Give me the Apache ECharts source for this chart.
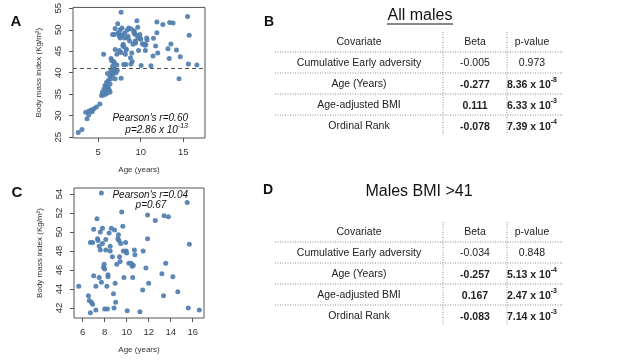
<!DOCTYPE html>
<html>
<head>
<meta charset="utf-8">
<script src="https://cdn.jsdelivr.net/npm/echarts@6.0.0/dist/echarts.min.js"></script>
<style>
  html, body { margin: 0; padding: 0; background: #fff; }
  #main { width: 617px; height: 360px; }
</style>
</head>
<body>
<div id="main"></div>
<script>
// males with BMI > 41 (shown in both A and C)
const ageAbove = [5.64, 6.52, 6.6, 6.7, 6.8, 6.9, 7.0, 7.0, 6.7, 6.9, 7.2, 7.2, 7.3, 7.35, 7.4, 7.5, 7.5, 7.6, 7.6, 7.7,
  7.7, 7.8, 7.8, 7.9, 7.95, 8.0, 8.0, 8.1, 8.1, 8.2, 8.25, 8.3, 8.3, 8.4, 8.5, 8.5, 8.6, 8.7, 8.8, 8.85,
  8.9, 8.95, 9.0, 9.1, 9.2, 9.25, 9.3, 9.35, 9.4, 9.45, 9.55, 9.65, 9.7, 9.75, 9.9, 9.95, 10.0, 10.05, 10.2, 10.4,
  10.5, 10.6, 10.7, 10.75, 10.55, 11.2, 11.45, 11.5, 11.75, 11.9, 11.9, 12.0, 12.6, 13.2, 13.35, 13.4, 13.55, 13.8, 14.2, 14.65,
  15.5, 15.7, 15.6, 16.6];
const bmiAbove = [44.3, 43.3, 42.8, 41.5, 42.6, 42.4, 45.4, 50.3, 48.9, 48.9, 44.3, 41.8, 51.4, 49.3, 49.1, 48.5, 45.2, 50.0, 48.1, 54.1,
  44.7, 48.8, 50.4, 46.3, 46.6, 46.1, 41.9, 49.2, 48.1, 44.3, 41.9, 45.5, 45.3, 49.9, 48.5, 48.0, 50.4, 47.4, 43.5, 42.0,
  50.2, 44.6, 42.6, 46.6, 49.3, 49.7, 49.1, 47.4, 46.9, 48.8, 52.1, 50.6, 48.0, 45.2, 48.9, 48.0, 47.8, 41.7, 46.7, 46.7,
  46.4, 46.5, 48.1, 47.6, 45.2, 41.6, 43.9, 48.0, 46.2, 49.3, 51.8, 44.6, 51.2, 45.6, 43.3, 51.7, 46.7, 51.6, 45.3, 43.7,
  53.1, 48.7, 42.0, 41.8];
// males with BMI <= 41 (A only)
const ageBelow = [2.67, 3.1, 3.7, 3.54, 3.93, 4.2, 4.5, 4.8, 5.2, 5.4, 5.6, 5.87, 5.9, 6.0, 6.0, 6.2, 6.2, 6.4, 6.4, 6.4,
  6.5, 6.6, 6.9, 7.0, 7.25, 7.7, 14.5, 5.7, 5.8, 6.1, 6.3, 6.5, 6.7, 6.8, 7.1, 5.5, 6.1, 3.9, 4.3];
const bmiBelow = [26.1, 26.8, 29.3, 30.8, 31.1, 31.3, 31.6, 32.0, 32.7, 34.7, 34.8, 35.0, 35.9, 36.8, 37.8, 36.5, 38.2, 35.5, 37.4, 39.1,
  40.5, 39.9, 40.9, 38.6, 40.5, 38.7, 38.6, 36.2, 37.0, 35.3, 36.0, 38.6, 39.5, 40.3, 40.0, 35.5, 39.8, 30.2, 30.9];
const bmiCutoff = 41;

const ticksAgeA = [5, 10, 15];
const ticksBmiA = [25, 30, 35, 40, 45, 50, 55];
const ticksAgeC = [6, 8, 10, 12, 14, 16];
const ticksBmiC = [42, 44, 46, 48, 50, 52, 54];

const covariates = ['Cumulative Early adversity', 'Age (Years)', 'Age-adjusted BMI', 'Ordinal Rank'];
const betaAll = ['-0.005', '-0.277', '0.111', '-0.078'];
const pAllBase = ['0.973', '8.36 x 10', '6.33 x 10', '7.39 x 10'];
const pAllExp = ['', '-8', '-3', '-4'];
const betaHigh = ['-0.034', '-0.257', '0.167', '-0.083'];
const pHighBase = ['0.848', '5.13 x 10', '2.47 x 10', '7.14 x 10'];
const pHighExp = ['', '-4', '-3', '-3'];

const FONT = 'Liberation Sans, Arial, Helvetica, sans-serif';
const DOT = '#4f7eb0';
const AXIS = '#555';

const zip = (xs, ys) => xs.map((x, i) => [x, ys[i]]);

const chart = echarts.init(document.getElementById('main'));

function xAxisOf(idx, min, max, ticks) {
  return {
    type: 'value', gridIndex: idx, min: min, max: max,
    name: 'Age (years)', nameLocation: 'middle', nameGap: 28,
    nameTextStyle: { fontFamily: FONT, fontSize: 8, color: '#333' },
    axisLine: { show: false },
    axisTick: { show: true, customValues: ticks, length: 4, lineStyle: { color: AXIS } },
    axisLabel: { customValues: ticks, fontFamily: FONT, fontSize: 9.5, color: '#333', margin: 9 },
    splitLine: { show: false }
  };
}

function yAxisOf(idx, min, max, ticks) {
  return {
    type: 'value', gridIndex: idx, min: min, max: max,
    name: 'Body mass index (Kg/m²)', nameLocation: 'middle', nameGap: 30, nameRotate: 90,
    nameTextStyle: { fontFamily: FONT, fontSize: 8, color: '#333' },
    axisLine: { show: false },
    axisTick: { show: true, customValues: ticks, length: 4, lineStyle: { color: AXIS } },
    axisLabel: { customValues: ticks, rotate: 90, fontFamily: FONT, fontSize: 9.5, color: '#333', margin: 10 },
    splitLine: { show: false }
  };
}

function txt(x, y, text, extra) {
  return {
    type: 'text', x: x, y: y, silent: true,
    style: Object.assign({ text: text, font: '10.5px ' + FONT, fill: '#222', align: 'center', verticalAlign: 'middle' }, extra || {})
  };
}

function dotted(x1, y1, x2, y2) {
  return {
    type: 'line', silent: true,
    shape: { x1: x1, y1: y1, x2: x2, y2: y2 },
    style: { stroke: '#8a8a8a', lineWidth: 1, lineDash: [1, 1.5] }
  };
}

function pvalue(x, y, base, exp, bold) {
  const w = bold ? 'bold' : 'normal';
  if (!exp) return txt(x, y, base, { font: w + ' 10.5px ' + FONT });
  return {
    type: 'text', x: x, y: y, silent: true,
    style: {
      text: '{n|' + base + '}{s|' + exp + '}',
      align: 'center', verticalAlign: 'middle',
      rich: {
        n: { fontFamily: FONT, fontSize: 10.5, fontWeight: w, fill: '#222', lineHeight: 14, verticalAlign: 'bottom' },
        s: { fontFamily: FONT, fontSize: 7, fontWeight: w, fill: '#222', lineHeight: 14, verticalAlign: 'top' }
      }
    }
  };
}

function table(top, betas, pBase, pExp) {
  const els = [];
  const colCov = 359, colBeta = 475, colP = 532;
  els.push(txt(colCov, top + 10, 'Covariate'));
  els.push(txt(colBeta, top + 10, 'Beta'));
  els.push(txt(colP, top + 10, 'p-value'));
  for (let i = 0; i < covariates.length; i++) {
    els.push(dotted(275, top + 20 + i * 21, 563, top + 20 + i * 21));
    const y = top + 31 + i * 21;
    const bold = i > 0;
    els.push(txt(colCov, y, covariates[i]));
    els.push(txt(colBeta, y + (bold ? 1 : 0), betas[i], { font: (bold ? 'bold ' : '') + '10.5px ' + FONT }));
    els.push(pvalue(colP, y, pBase[i], pExp[i], bold));
  }
  els.push(dotted(443, top, 443, top + 103));
  els.push(dotted(507, top, 507, top + 103));
  return els;
}

const graphics = [
  txt(16, 22, 'A', { font: 'bold 15px ' + FONT, fill: '#111' }),
  txt(17, 193, 'C', { font: 'bold 15px ' + FONT, fill: '#111' }),
  txt(269, 22, 'B', { font: 'bold 14px ' + FONT, fill: '#111' }),
  txt(268, 190, 'D', { font: 'bold 14px ' + FONT, fill: '#111' }),
  txt(420, 16, 'All males', { font: '16px ' + FONT, fill: '#111' }),
  { type: 'line', silent: true, shape: { x1: 387, y1: 24, x2: 453, y2: 24 }, style: { stroke: '#111', lineWidth: 1 } },
  txt(419, 192, 'Males BMI >41', { font: '16px ' + FONT, fill: '#111' }),
  txt(188, 118, "Pearson's r=0.60", { font: 'italic 10px ' + FONT, align: 'right', fill: '#111' }),
  {
    type: 'text', x: 188, y: 129, silent: true,
    style: {
      text: '{n|p=2.86 x 10}{s|-13}', align: 'right', verticalAlign: 'middle',
      rich: {
        n: { fontFamily: FONT, fontStyle: 'italic', fontSize: 10, fill: '#111', lineHeight: 13, verticalAlign: 'bottom' },
        s: { fontFamily: FONT, fontStyle: 'italic', fontSize: 7, fill: '#111', lineHeight: 13, verticalAlign: 'top' }
      }
    }
  },
  txt(188, 195, "Pearson's r=0.04", { font: 'italic 10px ' + FONT, align: 'right', fill: '#111' }),
  txt(151, 205, 'p=0.67', { font: 'italic 10px ' + FONT, fill: '#111' })
].concat(table(32, betaAll, pAllBase, pAllExp), table(222, betaHigh, pHighBase, pHighExp));

const option = {
  animation: false,
  backgroundColor: '#fff',
  grid: [
    { left: 73, top: 6, width: 132, height: 132, show: true, borderColor: AXIS, borderWidth: 1, backgroundColor: 'transparent' },
    { left: 74, top: 188, width: 130, height: 130, show: true, borderColor: AXIS, borderWidth: 1, backgroundColor: 'transparent' }
  ],
  xAxis: [xAxisOf(0, 2.05, 17.55, ticksAgeA), xAxisOf(1, 5.21, 17.03, ticksAgeC)],
  yAxis: [yAxisOf(0, 24.8, 55.2, ticksBmiA), yAxisOf(1, 40.95, 54.63, ticksBmiC)],
  series: [
    {
      type: 'scatter', xAxisIndex: 0, yAxisIndex: 0, symbolSize: 5,
      itemStyle: { color: DOT, opacity: 0.92 },
      data: zip(ageBelow, bmiBelow),
      markLine: {
        silent: true, symbol: ['none', 'none'], label: { show: false },
        lineStyle: { type: [4, 3], color: AXIS, width: 1 },
        data: [{ yAxis: bmiCutoff }]
      }
    },
    {
      type: 'scatter', xAxisIndex: 0, yAxisIndex: 0, symbolSize: 5,
      itemStyle: { color: DOT, opacity: 0.92 },
      data: zip(ageAbove, bmiAbove)
    },
    {
      type: 'scatter', xAxisIndex: 1, yAxisIndex: 1, symbolSize: 5,
      itemStyle: { color: DOT, opacity: 0.92 },
      data: zip(ageAbove, bmiAbove)
    }
  ],
  graphic: graphics
};

chart.setOption(option);
</script>
</body>
</html>
